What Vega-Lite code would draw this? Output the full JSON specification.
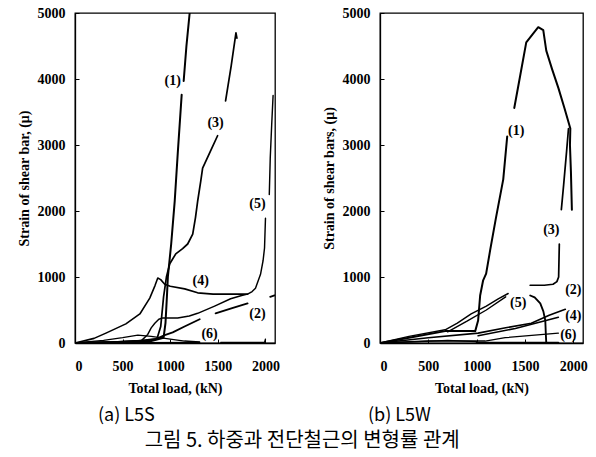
{
  "$schema": "https://vega.github.io/schema/vega-lite/v6.json",
  "padding": {"left": 16, "top": 5, "right": 5, "bottom": 5},
  "background": "white",
  "config": {
    "view": {"stroke": "black", "strokeWidth": 1.3},
    "axis": {
      "grid": false, "format": "d",
      "labelFont": "Liberation Serif", "labelFontSize": 14, "labelFontWeight": "bold", "labelColor": "black",
      "titleFont": "Liberation Serif", "titleFontSize": 14, "titleFontWeight": "bold", "titleColor": "black",
      "domainColor": "black", "domainWidth": 1.3, "tickColor": "black", "tickSize": -4, "tickWidth": 1
    }
  },
  "datasets": {
    "s": [
      {"s":"(1)","g":"1a","x":0,"y":0},{"s":"(1)","g":"1a","x":400,"y":10},{"s":"(1)","g":"1a","x":800,"y":30},{"s":"(1)","g":"1a","x":930,"y":80},{"s":"(1)","g":"1a","x":950,"y":300},{"s":"(1)","g":"1a","x":965,"y":700},{"s":"(1)","g":"1a","x":975,"y":1000},{"s":"(1)","g":"1a","x":1010,"y":1500},{"s":"(1)","g":"1a","x":1047,"y":2150},{"s":"(1)","g":"1a","x":1080,"y":2900},{"s":"(1)","g":"1a","x":1120,"y":3760},
      {"s":"(1)","g":"1b","x":1141,"y":3970},{"s":"(1)","g":"1b","x":1170,"y":4500},{"s":"(1)","g":"1b","x":1204,"y":5000},
      {"s":"(3)","g":"3a","x":0,"y":0},{"s":"(3)","g":"3a","x":400,"y":15},{"s":"(3)","g":"3a","x":750,"y":40},{"s":"(3)","g":"3a","x":860,"y":60},{"s":"(3)","g":"3a","x":900,"y":250},{"s":"(3)","g":"3a","x":930,"y":700},{"s":"(3)","g":"3a","x":960,"y":1000},{"s":"(3)","g":"3a","x":995,"y":1200},{"s":"(3)","g":"3a","x":1058,"y":1350},{"s":"(3)","g":"3a","x":1130,"y":1430},{"s":"(3)","g":"3a","x":1183,"y":1500},{"s":"(3)","g":"3a","x":1236,"y":1650},{"s":"(3)","g":"3a","x":1265,"y":1900},{"s":"(3)","g":"3a","x":1288,"y":2150},{"s":"(3)","g":"3a","x":1320,"y":2450},{"s":"(3)","g":"3a","x":1340,"y":2650},{"s":"(3)","g":"3a","x":1420,"y":2900},{"s":"(3)","g":"3a","x":1497,"y":3140},
      {"s":"(3)","g":"3b","x":1581,"y":3670},{"s":"(3)","g":"3b","x":1640,"y":4200},{"s":"(3)","g":"3b","x":1690,"y":4700},{"s":"(3)","g":"3b","x":1700,"y":4620},
      {"s":"(5)","g":"5a","x":0,"y":0},{"s":"(5)","g":"5a","x":400,"y":15},{"s":"(5)","g":"5a","x":700,"y":40},{"s":"(5)","g":"5a","x":764,"y":130},{"s":"(5)","g":"5a","x":800,"y":230},{"s":"(5)","g":"5a","x":838,"y":300},{"s":"(5)","g":"5a","x":880,"y":360},{"s":"(5)","g":"5a","x":921,"y":380},{"s":"(5)","g":"5a","x":1078,"y":380},{"s":"(5)","g":"5a","x":1200,"y":410},{"s":"(5)","g":"5a","x":1288,"y":450},{"s":"(5)","g":"5a","x":1466,"y":560},{"s":"(5)","g":"5a","x":1634,"y":670},{"s":"(5)","g":"5a","x":1750,"y":720},{"s":"(5)","g":"5a","x":1812,"y":740},{"s":"(5)","g":"5a","x":1860,"y":780},{"s":"(5)","g":"5a","x":1895,"y":830},{"s":"(5)","g":"5a","x":1948,"y":1040},{"s":"(5)","g":"5a","x":1975,"y":1250},{"s":"(5)","g":"5a","x":1990,"y":1440},{"s":"(5)","g":"5a","x":2000,"y":1890},
      {"s":"(5)","g":"5b","x":2040,"y":2250},{"s":"(5)","g":"5b","x":2050,"y":2800},{"s":"(5)","g":"5b","x":2065,"y":3300},{"s":"(5)","g":"5b","x":2080,"y":3750},
      {"s":"(4)","g":"4a","x":0,"y":0},{"s":"(4)","g":"4a","x":200,"y":70},{"s":"(4)","g":"4a","x":325,"y":150},{"s":"(4)","g":"4a","x":534,"y":290},{"s":"(4)","g":"4a","x":681,"y":440},{"s":"(4)","g":"4a","x":785,"y":680},{"s":"(4)","g":"4a","x":840,"y":870},{"s":"(4)","g":"4a","x":869,"y":985},{"s":"(4)","g":"4a","x":900,"y":960},{"s":"(4)","g":"4a","x":942,"y":890},{"s":"(4)","g":"4a","x":1000,"y":860},{"s":"(4)","g":"4a","x":1152,"y":820},{"s":"(4)","g":"4a","x":1288,"y":760},{"s":"(4)","g":"4a","x":1450,"y":740},{"s":"(4)","g":"4a","x":1634,"y":740},{"s":"(4)","g":"4a","x":1812,"y":740},
      {"s":"(2)","g":"2a","x":0,"y":0},{"s":"(2)","g":"2a","x":600,"y":20},{"s":"(2)","g":"2a","x":850,"y":60},{"s":"(2)","g":"2a","x":942,"y":120},{"s":"(2)","g":"2a","x":1026,"y":160},{"s":"(2)","g":"2a","x":1150,"y":250},{"s":"(2)","g":"2a","x":1309,"y":360},
      {"s":"(2)","g":"2b","x":1476,"y":450},{"s":"(2)","g":"2b","x":1650,"y":530},{"s":"(2)","g":"2b","x":1812,"y":600},
      {"s":"(2)","g":"2c","x":2050,"y":700},{"s":"(2)","g":"2c","x":2095,"y":720},
      {"s":"(6)","g":"6a","x":0,"y":0},{"s":"(6)","g":"6a","x":300,"y":40},{"s":"(6)","g":"6a","x":500,"y":80},{"s":"(6)","g":"6a","x":660,"y":120},{"s":"(6)","g":"6a","x":800,"y":100},{"s":"(6)","g":"6a","x":1000,"y":60},{"s":"(6)","g":"6a","x":1150,"y":30},{"s":"(6)","g":"6a","x":1309,"y":15},
      {"s":"(6)","g":"6b","x":0,"y":0},{"s":"(6)","g":"6b","x":700,"y":5},{"s":"(6)","g":"6b","x":1309,"y":10},
      {"s":"(6)","g":"6c","x":1530,"y":10},{"s":"(6)","g":"6c","x":1990,"y":10},{"s":"(6)","g":"6c","x":2000,"y":60}
    ],
    "w": [
      {"s":"(1)","g":"1a","x":0,"y":0},{"s":"(1)","g":"1a","x":300,"y":80},{"s":"(1)","g":"1a","x":674,"y":180},{"s":"(1)","g":"1a","x":985,"y":180},{"s":"(1)","g":"1a","x":1015,"y":340},{"s":"(1)","g":"1a","x":1036,"y":720},{"s":"(1)","g":"1a","x":1067,"y":950},{"s":"(1)","g":"1a","x":1098,"y":1050},{"s":"(1)","g":"1a","x":1140,"y":1410},{"s":"(1)","g":"1a","x":1200,"y":1900},{"s":"(1)","g":"1a","x":1275,"y":2480},{"s":"(1)","g":"1a","x":1316,"y":3130},
      {"s":"(1)","g":"1b","x":1389,"y":3560},{"s":"(1)","g":"1b","x":1450,"y":4050},{"s":"(1)","g":"1b","x":1513,"y":4555},{"s":"(1)","g":"1b","x":1580,"y":4680},{"s":"(1)","g":"1b","x":1637,"y":4785},{"s":"(1)","g":"1b","x":1689,"y":4740},{"s":"(1)","g":"1b","x":1720,"y":4430},{"s":"(1)","g":"1b","x":1780,"y":4150},{"s":"(1)","g":"1b","x":1845,"y":3865},{"s":"(1)","g":"1b","x":1910,"y":3550},{"s":"(1)","g":"1b","x":1969,"y":3250},{"s":"(1)","g":"1b","x":1965,"y":3000},{"s":"(1)","g":"1b","x":1975,"y":2600},{"s":"(1)","g":"1b","x":1985,"y":2020},
      {"s":"(3)","g":"3a","x":1554,"y":875},{"s":"(3)","g":"3a","x":1700,"y":875},{"s":"(3)","g":"3a","x":1790,"y":890},{"s":"(3)","g":"3a","x":1830,"y":930},{"s":"(3)","g":"3a","x":1848,"y":1000},{"s":"(3)","g":"3a","x":1855,"y":1500},
      {"s":"(3)","g":"3b","x":1876,"y":2020},{"s":"(3)","g":"3b","x":1900,"y":2400},{"s":"(3)","g":"3b","x":1930,"y":2900},{"s":"(3)","g":"3b","x":1950,"y":3250},
      {"s":"(5)","g":"5a","x":0,"y":0},{"s":"(5)","g":"5a","x":300,"y":100},{"s":"(5)","g":"5a","x":674,"y":200},{"s":"(5)","g":"5a","x":800,"y":300},{"s":"(5)","g":"5a","x":943,"y":440},{"s":"(5)","g":"5a","x":1100,"y":560},{"s":"(5)","g":"5a","x":1223,"y":670},{"s":"(5)","g":"5a","x":1326,"y":750},
      {"s":"(5)","g":"5b","x":700,"y":170},{"s":"(5)","g":"5b","x":900,"y":330},{"s":"(5)","g":"5b","x":1100,"y":500},{"s":"(5)","g":"5b","x":1300,"y":700},
      {"s":"(2)","g":"2a","x":1554,"y":720},{"s":"(2)","g":"2a","x":1600,"y":690},{"s":"(2)","g":"2a","x":1658,"y":600},{"s":"(2)","g":"2a","x":1690,"y":480},{"s":"(2)","g":"2a","x":1710,"y":340},{"s":"(2)","g":"2a","x":1715,"y":150},{"s":"(2)","g":"2a","x":1720,"y":0},
      {"s":"(2)","g":"2b","x":1000,"y":5},{"s":"(2)","g":"2b","x":1845,"y":5},
      {"s":"(4)","g":"4a","x":0,"y":0},{"s":"(4)","g":"4a","x":500,"y":80},{"s":"(4)","g":"4a","x":1015,"y":150},{"s":"(4)","g":"4a","x":1300,"y":230},{"s":"(4)","g":"4a","x":1565,"y":300},{"s":"(4)","g":"4a","x":1750,"y":420},{"s":"(4)","g":"4a","x":1917,"y":510},
      {"s":"(4)","g":"4b","x":1015,"y":110},{"s":"(4)","g":"4b","x":1400,"y":220},{"s":"(4)","g":"4b","x":1845,"y":390},
      {"s":"(6)","g":"6a","x":0,"y":0},{"s":"(6)","g":"6a","x":500,"y":30},{"s":"(6)","g":"6a","x":1088,"y":30},{"s":"(6)","g":"6a","x":1295,"y":80},{"s":"(6)","g":"6a","x":1600,"y":120},{"s":"(6)","g":"6a","x":1845,"y":150},
      {"s":"(6)","g":"6b","x":0,"y":0},{"s":"(6)","g":"6b","x":400,"y":20},{"s":"(6)","g":"6b","x":700,"y":40},{"s":"(6)","g":"6b","x":1000,"y":20}
    ],
    "ls": [
      {"t":"(1)","x":1026,"y":3970},{"t":"(3)","x":1476,"y":3333},{"t":"(5)","x":1916,"y":2106},{"t":"(4)","x":1320,"y":940},{"t":"(2)","x":1916,"y":440},{"t":"(6)","x":1413,"y":136}
    ],
    "lw": [
      {"t":"(1)","x":1409,"y":3205},{"t":"(3)","x":1772,"y":1718},{"t":"(2)","x":2000,"y":800},{"t":"(5)","x":1430,"y":600},{"t":"(4)","x":2000,"y":414},{"t":"(6)","x":1948,"y":123}
    ]
  },
  "spacing": 40,
  "title": {"text": "그림 5. 하중과 전단철근의 변형률 관계", "orient": "bottom", "anchor": "middle", "font": "Noto Sans CJK KR", "fontSize": 20, "fontWeight": "normal", "color": "black", "offset": 5},
  "hconcat": [
    {
      "width": 200, "height": 330,
      "title": {"text": "(a) L5S", "orient": "bottom", "anchor": "start", "frame": "group", "dx": 23, "font": "Noto Sans CJK KR", "fontSize": 18, "fontWeight": "normal", "color": "black", "offset": 12},
      "layer": [
        {
          "data": {"name": "s"},
          "mark": {"type": "line", "color": "black", "clip": true, "strokeCap": "round", "strokeJoin": "round"},
          "encoding": {
            "x": {"field": "x", "type": "quantitative", "scale": {"domain": [0, 2100], "nice": false}, "axis": {"values": [0, 500, 1000, 1500, 2000], "title": "Total load, (kN)", "labelPadding": 20, "titlePadding": 8}},
            "y": {"field": "y", "type": "quantitative", "scale": {"domain": [0, 5000], "nice": false}, "axis": {"values": [0, 500, 1000, 1500, 2000, 2500, 3000, 3500, 4000, 4500, 5000], "title": "Strain of shear bar, (μ)", "labelPadding": 14, "titlePadding": 6}},
            "detail": {"field": "g"},
            "order": {"value": null},
            "strokeWidth": {"field": "s", "type": "nominal", "scale": {"domain": ["(1)", "(2)", "(3)", "(4)", "(5)", "(6)"], "range": [2, 1.3, 3, 1.5, 3, 1.5]}, "legend": null}
          }
        },
        {
          "data": {"name": "ls"},
          "mark": {"type": "text", "font": "Liberation Serif", "fontSize": 14, "fontWeight": "bold", "color": "black"},
          "encoding": {
            "x": {"field": "x", "type": "quantitative"},
            "y": {"field": "y", "type": "quantitative"},
            "text": {"field": "t"}
          }
        }
      ]
    },
    {
      "width": 203, "height": 330,
      "title": {"text": "(b) L5W", "orient": "bottom", "anchor": "start", "frame": "group", "dx": -12, "font": "Noto Sans CJK KR", "fontSize": 18, "fontWeight": "normal", "color": "black", "offset": 12},
      "layer": [
        {
          "data": {"name": "w"},
          "mark": {"type": "line", "color": "black", "clip": true, "strokeCap": "round", "strokeJoin": "round"},
          "encoding": {
            "x": {"field": "x", "type": "quantitative", "scale": {"domain": [0, 2100], "nice": false}, "axis": {"values": [0, 500, 1000, 1500, 2000], "title": "Total load, (kN)", "labelPadding": 20, "titlePadding": 8}},
            "y": {"field": "y", "type": "quantitative", "scale": {"domain": [0, 5000], "nice": false}, "axis": {"values": [0, 500, 1000, 1500, 2000, 2500, 3000, 3500, 4000, 4500, 5000], "title": "Strain of shear bars, (μ)", "labelPadding": 14, "titlePadding": 6}},
            "detail": {"field": "g"},
            "order": {"value": null},
            "strokeWidth": {"field": "s", "type": "nominal", "scale": {"domain": ["(1)", "(2)", "(3)", "(4)", "(5)", "(6)"], "range": [3, 2.5, 3, 1.8, 3, 1.3]}, "legend": null}
          }
        },
        {
          "data": {"name": "lw"},
          "mark": {"type": "text", "font": "Liberation Serif", "fontSize": 14, "fontWeight": "bold", "color": "black"},
          "encoding": {
            "x": {"field": "x", "type": "quantitative"},
            "y": {"field": "y", "type": "quantitative"},
            "text": {"field": "t"}
          }
        }
      ]
    }
  ]
}
